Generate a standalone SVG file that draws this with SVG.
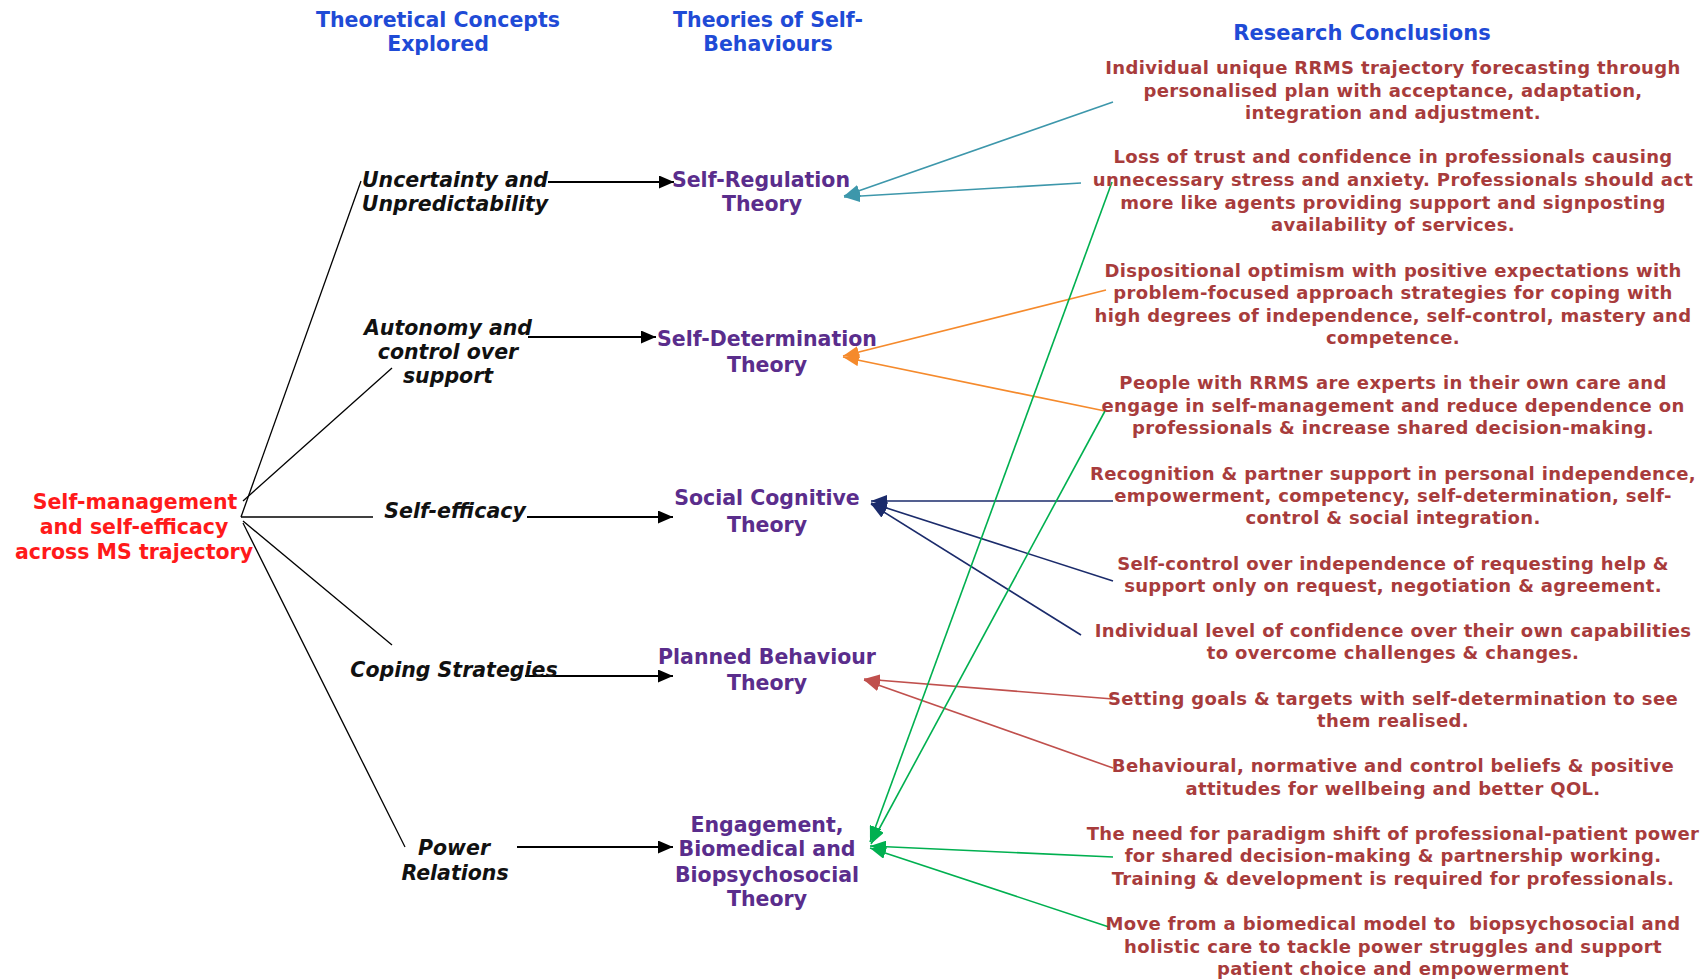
<svg xmlns="http://www.w3.org/2000/svg" width="1707" height="979" viewBox="0 0 1707 979">
<defs>
<style>
text{font-family:"DejaVu Sans","Liberation Sans",sans-serif;font-weight:bold;text-anchor:middle}
.hdr{fill:#1f4bd6;font-size:20.5px}
.root{fill:#ff1a1a;font-size:20.5px}
.con{fill:#111111;font-size:20.5px;font-style:italic}
.th{fill:#5a2d8c;font-size:20.5px}
.rc{fill:#a83c3c;font-size:18px;letter-spacing:0.35px}
.thin{stroke:#000;stroke-width:1.3;fill:none}
.blk{stroke:#000;stroke-width:2;fill:none;marker-end:url(#mb)}
.teal{stroke:#3d97ab;stroke-width:1.6;fill:none;marker-end:url(#mt)}
.orn{stroke:#f58a2c;stroke-width:1.6;fill:none;marker-end:url(#mo)}
.nav{stroke:#1b2b6b;stroke-width:1.6;fill:none;marker-end:url(#mn)}
.red{stroke:#c0504d;stroke-width:1.6;fill:none;marker-end:url(#mr)}
.grn{stroke:#00b050;stroke-width:1.6;fill:none;marker-end:url(#mg)}
</style>
<marker id="mb" viewBox="0 0 15 13" refX="15" refY="6.5" markerWidth="15" markerHeight="13" markerUnits="userSpaceOnUse" orient="auto"><path d="M0,0 L15,6.5 L0,13 z" fill="#000"/></marker>
<marker id="mt" viewBox="0 0 16 12" refX="16" refY="6" markerWidth="16" markerHeight="12" markerUnits="userSpaceOnUse" orient="auto"><path d="M0,0 L16,6 L0,12 z" fill="#3d97ab"/></marker>
<marker id="mo" viewBox="0 0 16 12" refX="16" refY="6" markerWidth="16" markerHeight="12" markerUnits="userSpaceOnUse" orient="auto"><path d="M0,0 L16,6 L0,12 z" fill="#f58a2c"/></marker>
<marker id="mn" viewBox="0 0 16 12" refX="16" refY="6" markerWidth="16" markerHeight="12" markerUnits="userSpaceOnUse" orient="auto"><path d="M0,0 L16,6 L0,12 z" fill="#1b2b6b"/></marker>
<marker id="mr" viewBox="0 0 16 12" refX="16" refY="6" markerWidth="16" markerHeight="12" markerUnits="userSpaceOnUse" orient="auto"><path d="M0,0 L16,6 L0,12 z" fill="#c0504d"/></marker>
<marker id="mg" viewBox="0 0 16 12" refX="16" refY="6" markerWidth="16" markerHeight="12" markerUnits="userSpaceOnUse" orient="auto"><path d="M0,0 L16,6 L0,12 z" fill="#00b050"/></marker>
</defs>
<rect width="1707" height="979" fill="#fff"/>

<g id="headers">
<g id="hdr-concepts"><text class="hdr" x="438" y="27">Theoretical Concepts</text><text class="hdr" x="438" y="51">Explored</text></g>
<g id="hdr-theories"><text class="hdr" x="768" y="27">Theories of Self-</text><text class="hdr" x="768" y="51">Behaviours</text></g>
<g id="hdr-conclusions"><text class="hdr" x="1362" y="40" style="font-size:21px">Research Conclusions</text></g>
</g>

<g id="connectors">
<path class="thin" d="M241,517 L361,181"/>
<path class="thin" d="M243,501 L392,368"/>
<path class="thin" d="M241,517 L373,517"/>
<path class="thin" d="M243,521 L392,645"/>
<path class="thin" d="M243,523 L405,847"/>
<path class="blk" d="M548,182 L674,182"/>
<path class="blk" d="M528,337 L656,337"/>
<path class="blk" d="M527,517 L673,517"/>
<path class="blk" d="M525,676 L673,676"/>
<path class="blk" d="M517,847 L673,847"/>
<path class="teal" d="M1113,102 L844,196"/>
<path class="teal" d="M1081,183 L844,197"/>
<path class="orn" d="M1106,290 L843,356"/>
<path class="orn" d="M1105,411 L843,357"/>
<path class="nav" d="M1113,501 L871,501"/>
<path class="nav" d="M1113,581 L871,503"/>
<path class="nav" d="M1081,635 L871,504"/>
<path class="red" d="M1113,699 L864,679"/>
<path class="red" d="M1113,768 L864,680"/>
<path class="grn" d="M1112,182 L870,842"/>
<path class="grn" d="M1105,411 L871,844"/>
<path class="grn" d="M1113,857 L870,846"/>
<path class="grn" d="M1109,927 L870,848"/>
</g>

<g id="root"><text class="root" x="135" y="509">Self-management</text><text class="root" x="134" y="534">and self-efficacy</text><text class="root" x="134" y="559">across MS trajectory</text></g>

<g id="concept-uncertainty"><text class="con" x="455" y="187">Uncertainty and</text><text class="con" x="455" y="211">Unpredictability</text></g>
<g id="concept-autonomy"><text class="con" x="448" y="335">Autonomy and</text><text class="con" x="448" y="359">control over</text><text class="con" x="448" y="383">support</text></g>
<g id="concept-selfefficacy"><text class="con" x="455" y="518">Self-efficacy</text></g>
<g id="concept-coping"><text class="con" x="454" y="677">Coping Strategies</text></g>
<g id="concept-power"><text class="con" x="454" y="855">Power</text><text class="con" x="455" y="880">Relations</text></g>

<g id="theory-selfregulation"><text class="th" x="761" y="187">Self-Regulation</text><text class="th" x="762" y="211">Theory</text></g>
<g id="theory-selfdetermination"><text class="th" x="767" y="346">Self-Determination</text><text class="th" x="767" y="372">Theory</text></g>
<g id="theory-socialcognitive"><text class="th" x="767" y="505">Social Cognitive</text><text class="th" x="767" y="532">Theory</text></g>
<g id="theory-planned"><text class="th" x="767" y="664">Planned Behaviour</text><text class="th" x="767" y="690">Theory</text></g>
<g id="theory-engagement"><text class="th" x="767" y="832">Engagement,</text><text class="th" x="767" y="856">Biomedical and</text><text class="th" x="767" y="882">Biopsychosocial</text><text class="th" x="767" y="906">Theory</text></g>

<g id="conc-1"><text class="rc" x="1393" y="74">Individual unique RRMS trajectory forecasting through</text><text class="rc" x="1393" y="97">personalised plan with acceptance, adaptation,</text><text class="rc" x="1393" y="119">integration and adjustment.</text></g>
<g id="conc-2"><text class="rc" x="1393" y="163">Loss of trust and confidence in professionals causing</text><text class="rc" x="1393" y="186">unnecessary stress and anxiety. Professionals should act</text><text class="rc" x="1393" y="209">more like agents providing support and signposting</text><text class="rc" x="1393" y="231">availability of services.</text></g>
<g id="conc-3"><text class="rc" x="1393" y="277">Dispositional optimism with positive expectations with</text><text class="rc" x="1393" y="299">problem-focused approach strategies for coping with</text><text class="rc" x="1393" y="322">high degrees of independence, self-control, mastery and</text><text class="rc" x="1393" y="344">competence.</text></g>
<g id="conc-4"><text class="rc" x="1393" y="389">People with RRMS are experts in their own care and</text><text class="rc" x="1393" y="412">engage in self-management and reduce dependence on</text><text class="rc" x="1393" y="434">professionals &amp; increase shared decision-making.</text></g>
<g id="conc-5"><text class="rc" x="1393" y="480">Recognition &amp; partner support in personal independence,</text><text class="rc" x="1393" y="502">empowerment, competency, self-determination, self-</text><text class="rc" x="1393" y="524">control &amp; social integration.</text></g>
<g id="conc-6"><text class="rc" x="1393" y="570">Self-control over independence of requesting help &amp;</text><text class="rc" x="1393" y="592">support only on request, negotiation &amp; agreement.</text></g>
<g id="conc-7"><text class="rc" x="1393" y="637">Individual level of confidence over their own capabilities</text><text class="rc" x="1393" y="659">to overcome challenges &amp; changes.</text></g>
<g id="conc-8"><text class="rc" x="1393" y="705">Setting goals &amp; targets with self-determination to see</text><text class="rc" x="1393" y="727">them realised.</text></g>
<g id="conc-9"><text class="rc" x="1393" y="772">Behavioural, normative and control beliefs &amp; positive</text><text class="rc" x="1393" y="795">attitudes for wellbeing and better QOL.</text></g>
<g id="conc-10"><text class="rc" x="1393" y="840">The need for paradigm shift of professional-patient power</text><text class="rc" x="1393" y="862">for shared decision-making &amp; partnership working.</text><text class="rc" x="1393" y="885">Training &amp; development is required for professionals.</text></g>
<g id="conc-11"><text class="rc" x="1393" y="930" xml:space="preserve">Move from a biomedical model to  biopsychosocial and</text><text class="rc" x="1393" y="953">holistic care to tackle power struggles and support</text><text class="rc" x="1393" y="975">patient choice and empowerment</text></g>
</svg>
